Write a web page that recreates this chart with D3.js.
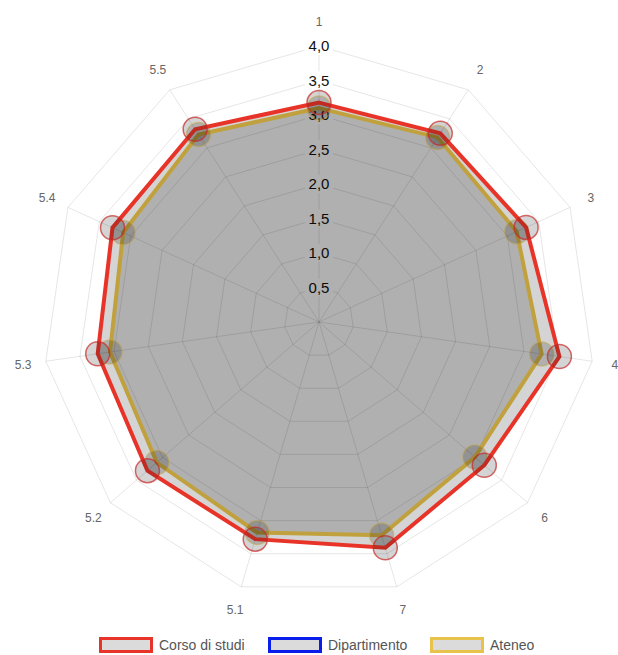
<!DOCTYPE html>
<html>
<head>
<meta charset="utf-8">
<script src="https://cdn.jsdelivr.net/npm/d3@7"></script>
<style>
  body { margin: 0; background: #fff; }
  svg { display: block; font-family: "Liberation Sans", Helvetica, Arial, sans-serif; }
</style>
</head>
<body>
<svg id="chart" width="618" height="655"></svg>
<script>
// axes of the radar, clockwise from the top
var labels = ['1', '2', '3', '4', '6', '7', '5.1', '5.2', '5.3', '5.4', '5.5'];
var ticks = [0.5, 1.0, 1.5, 2.0, 2.5, 3.0, 3.5, 4.0];

// series (Dipartimento has no values in the picture)
var corso = [3.18, 3.25, 3.30, 3.52, 3.17, 3.41, 3.28, 3.29, 3.24, 3.29, 3.32];
var dipartimento = [];
var ateneo = [3.10, 3.18, 3.15, 3.26, 2.99, 3.22, 3.18, 3.11, 3.06, 3.12, 3.23];

var series = [
  { name: 'Corso di studi', values: corso, color: 'rgb(232,52,40)', point: 'rgba(200,40,40,0.7)' },
  { name: 'Dipartimento', values: dipartimento, color: 'rgb(10,30,235)', point: 'rgba(10,30,235,0.5)' },
  { name: 'Ateneo', values: ateneo, color: 'rgb(232,194,74)', point: 'rgba(232,194,74,0.45)' }
];

var fill = 'rgba(0,0,0,0.17)';
var cx = 319, cy = 322, R = 276;

var svg = d3.select('#chart');
var r = d3.scaleLinear().domain([0, 4]).range([0, R]);
var angle = d3.scaleLinear().domain([0, labels.length]).range([0, 2 * Math.PI]);
var fmt = d3.formatLocale({ decimal: ',', thousands: '.', grouping: [3], currency: ['', '€'] }).format('.1f');

function pt(i, v) {
  var a = angle(i);
  return [cx + r(v) * Math.sin(a), cy - r(v) * Math.cos(a)];
}

var g = svg.append('g');

// grid rings
g.selectAll('.ring').data(ticks).enter().append('polygon')
  .attr('class', 'ring')
  .attr('points', function(t) {
    return labels.map(function(l, i) { return pt(i, t).join(','); }).join(' ');
  })
  .attr('fill', 'none')
  .attr('stroke', 'rgba(0,0,0,0.1)')
  .attr('stroke-width', 1);

// angle lines
g.selectAll('.spoke').data(labels).enter().append('line')
  .attr('class', 'spoke')
  .attr('x1', cx).attr('y1', cy)
  .attr('x2', function(d, i) { return pt(i, 4)[0]; })
  .attr('y2', function(d, i) { return pt(i, 4)[1]; })
  .attr('stroke', 'rgba(0,0,0,0.1)')
  .attr('stroke-width', 1);

// tick labels with a white backdrop
var tk = g.selectAll('.tick').data(ticks).enter().append('g').attr('class', 'tick');
tk.append('rect')
  .attr('x', cx - 14).attr('width', 28)
  .attr('y', function(t) { return cy - r(t) - 9; })
  .attr('height', 18)
  .attr('fill', '#fff');
tk.append('text')
  .attr('x', cx)
  .attr('y', function(t) { return cy - r(t); })
  .attr('text-anchor', 'middle')
  .attr('dy', '0.36em')
  .attr('font-size', 15)
  .attr('fill', '#111')
  .text(function(t) { return fmt(t); });

// point labels
var lr = R + 21;
g.selectAll('.plabel').data(labels).enter().append('text')
  .attr('class', 'plabel')
  .attr('x', function(d, i) { return cx + (lr + 2 * Math.abs(Math.sin(angle(i)))) * Math.sin(angle(i)); })
  .attr('y', function(d, i) { return cy - (lr + 3 * Math.abs(Math.cos(angle(i)))) * Math.cos(angle(i)); })
  .attr('text-anchor', 'middle')
  .attr('dy', '0.36em')
  .attr('font-size', 12)
  .attr('fill', '#666')
  .text(function(d) { return d; });

// datasets: last one drawn first, like chart.js
var line = d3.lineRadial()
  .angle(function(d, i) { return angle(i); })
  .radius(function(d) { return r(d); })
  .curve(d3.curveLinearClosed);

series.slice().reverse().forEach(function(s) {
  if (!s.values.length) return;
  var sg = svg.append('g').attr('transform', 'translate(' + cx + ',' + cy + ')');
  sg.append('path')
    .attr('d', line(s.values))
    .attr('fill', fill)
    .attr('stroke', s.color)
    .attr('stroke-width', 4)
    .attr('stroke-linejoin', 'miter');
  sg.selectAll('circle').data(s.values).enter().append('circle')
    .attr('cx', function(d, i) { return r(d) * Math.sin(angle(i)); })
    .attr('cy', function(d, i) { return -r(d) * Math.cos(angle(i)); })
    .attr('r', 12)
    .attr('fill', fill)
    .attr('stroke', s.point)
    .attr('stroke-width', 1.5);
});

// legend
var legendX = [99, 268, 430];
var lg = svg.selectAll('.legend').data(series).enter().append('g')
  .attr('class', 'legend')
  .attr('transform', function(d, i) { return 'translate(' + legendX[i] + ',637)'; });
lg.append('rect')
  .attr('x', 1.5).attr('y', 1.5)
  .attr('width', 51).attr('height', 13)
  .attr('fill', 'rgba(0,0,0,0.14)')
  .attr('stroke', function(d) { return d.color; })
  .attr('stroke-width', 3);
lg.append('text')
  .attr('x', 60).attr('y', 13)
  .attr('font-size', 14)
  .attr('fill', '#555')
  .text(function(d) { return d.name; });
</script>
</body>
</html>
